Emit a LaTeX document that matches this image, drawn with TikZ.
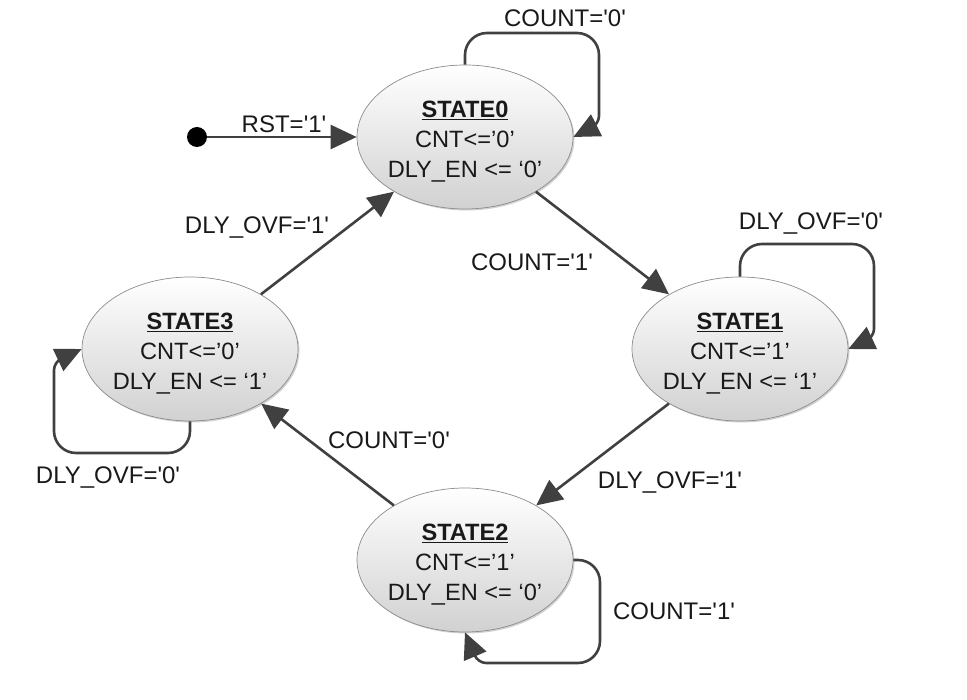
\documentclass[tikz,border=0pt]{standalone}
\usepackage{fontspec}
\setmainfont{Liberation Sans}
\usetikzlibrary{arrows.meta,shapes.geometric,shadows}
\newcommand{\myq}{\textquotesingle}
\begin{document}
\begin{tikzpicture}[x=1pt,y=-1pt,
  stateshape/.style={ellipse, draw=black!45, line width=0.7pt, minimum width=216pt, minimum height=144pt, inner sep=0pt,
    top color=white, bottom color=black!18,
    drop shadow={shadow xshift=1.5pt, shadow yshift=-1.5pt, opacity=0.18, fill=black}},
  statetext/.style={align=center, font=\fontsize{23.6}{30}\selectfont, text=black!90, inner sep=0pt},
  lbl/.style={font=\fontsize{24}{28}\selectfont, inner sep=0pt, text=black!90},
  arr/.style={draw=black!75, line width=2.6pt, -{Triangle[length=26pt,width=24pt]}},
  initdot/.style={circle, fill=black, minimum size=20pt, inner sep=0pt}
]
\useasboundingbox (0,0) rectangle (967,700);

% states
\node[stateshape] (s0) at (465,137) {};
\node[stateshape] (s1) at (740,349) {};
\node[stateshape] (s2) at (465,560) {};
\node[stateshape] (s3) at (190,349) {};

\node[statetext, yshift=-5pt] (t0) at (s0) {\underline{\textbf{STATE0}}\\CNT<=’0’\\DLY\_EN <= ‘0’};
\node[statetext, yshift=-5pt] (t1) at (s1) {\underline{\textbf{STATE1}}\\CNT<=’1’\\DLY\_EN <= ‘1’};
\node[statetext, yshift=-5pt] (t2) at (s2) {\underline{\textbf{STATE2}}\\CNT<=’1’\\DLY\_EN <= ‘0’};
\node[statetext, yshift=-5pt] (t3) at (s3) {\underline{\textbf{STATE3}}\\CNT<=’0’\\DLY\_EN <= ‘1’};

% initial
\node[initdot] (init) at (197,137) {};
\draw[arr] (init) -- (s0);
\node[lbl] (lrst) at (284,124) {RST=\myq1\myq};

% transitions
\draw[arr] (s0) -- (s1);
\draw[arr] (s1) -- (s2);
\draw[arr] (s2) -- (s3);
\draw[arr] (s3) -- (s0);

\node[lbl] (l01) at (532,262) {COUNT=\myq1\myq};
\node[lbl] (l12) at (670,483) {DLY\_OVF=\myq1\myq};
\node[lbl] (l23) at (389,440) {COUNT=\myq0\myq};
\node[lbl] (l30) at (257,228) {DLY\_OVF=\myq1\myq};

% self loops
\coordinate (a0) at (599,33);
\coordinate (b0) at (599,124);
\draw[arr, rounded corners=22pt] (s0.north) |- (a0) [rounded corners=8pt] -- (b0) [sharp corners] -- (s0.east);
\node[lbl] (ls0) at (565,18) {COUNT=\myq0\myq};

\coordinate (a1) at (874,244);
\coordinate (b1) at (874,337);
\draw[arr, rounded corners=22pt] (s1.north) |- (a1) [rounded corners=8pt] -- (b1) [sharp corners] -- (s1.east);
\node[lbl] (ls1) at (811,224) {DLY\_OVF=\myq0\myq};

\coordinate (a3) at (54,453);
\coordinate (b3) at (54,362);
\draw[arr, rounded corners=22pt] (s3.south) |- (a3) [rounded corners=8pt] -- (b3) [sharp corners] -- (s3.west);
\node[lbl] (ls3) at (108,478) {DLY\_OVF=\myq0\myq};

\coordinate (a2) at (600,663);
\coordinate (b2) at (478,663);
\draw[arr, rounded corners=22pt] (s2.east) -| (a2) [rounded corners=8pt] -- (b2) [sharp corners] -- (s2.south);
\node[lbl] (ls2) at (674,611) {COUNT=\myq1\myq};
\end{tikzpicture}
\end{document}
